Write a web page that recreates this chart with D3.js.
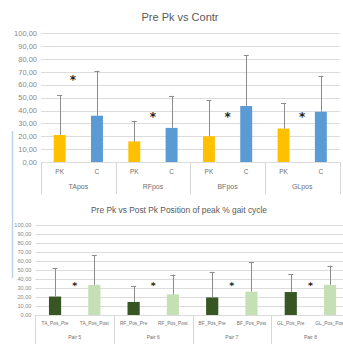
<!DOCTYPE html>
<html>
<head>
<meta charset="utf-8">
<script src="https://cdn.jsdelivr.net/npm/d3@7"></script>
<style>
  body { margin: 0; background: #fff; }
  svg { display: block; font-family: "Liberation Sans", Arial, sans-serif; }
  .grid line { stroke: #dcdcdc; stroke-width: 1; }
  .ytick { fill: #8a8a8a; }
  .cat { fill: #6f6f6f; }
  .title { fill: #595959; }
  .sep { stroke: #d6d6d6; stroke-width: 1; }
  .err { stroke: #8c8c8c; stroke-width: 1; }
</style>
</head>
<body>
<svg id="chart" width="343" height="344"></svg>
<script>
  // ---- data ----
  var yTicks = [0, 10, 20, 30, 40, 50, 60, 70, 80, 90, 100];

  // top chart: Pre Pk vs Contr
  var topGroups = ['TApos', 'RFpos', 'BFpos', 'GLpos'];
  var topSubLabels = ['PK', 'C'];
  var topPK = [21, 16, 20, 26];
  var topPKErr = [31, 16, 28, 20];
  var topC = [36, 26.5, 43.5, 39];
  var topCErr = [35, 25, 39.5, 28];
  var topStars = [65, 36, 36, 36];

  // bottom chart: Pre Pk vs Post Pk
  var botGroups = ['Pair 5', 'Pair 6', 'Pair 7', 'Pair 8'];
  var botPreLabels = ['TA_Pos_Pre', 'RF_Pos_Pre', 'BF_Pos_Pre', 'GL_Pos_Pre'];
  var botPostLabels = ['TA_Pos_Post', 'RF_Pos_Post', 'BF_Pos_Post', 'GL_Pos_Post'];
  var botPre = [20.5, 14.5, 19.5, 25.5];
  var botPreErr = [31.5, 17.5, 28.5, 20];
  var botPost = [33.5, 23, 26, 33.5];
  var botPostErr = [33, 22, 32.5, 21.5];
  var botStars = [34, 34, 34, 34];

  var svg = d3.select('#chart');

  // builds the flat list of bars from two series
  function makeBars(groups, labA, labB, valA, errA, valB, errB) {
    var bars = [];
    groups.forEach(function (g, i) {
      bars.push({group: g, label: labA[i], value: valA[i], err: errA[i], s: 0});
      bars.push({group: g, label: labB[i], value: valB[i], err: errB[i], s: 1});
    });
    return bars;
  }

  function drawChart(cfg) {
    var g = svg.append('g');

    var y = d3.scaleLinear().domain([0, 100]).range([cfg.y0, cfg.y1]);
    var xg = d3.scaleBand().domain(cfg.groups).range([cfg.x0, cfg.x1]);
    var xs = d3.scaleBand().domain([0, 1]).range([0, xg.bandwidth()]);
    var barW = xs.bandwidth() * cfg.barFrac;

    function cx(d) { return xg(d.group) + xs(d.s) + xs.bandwidth() / 2; }

    // title
    g.append('text')
        .attr('class', 'title')
        .attr('x', cfg.titleX)
        .attr('y', cfg.titleY)
        .attr('text-anchor', 'middle')
        .style('font-size', cfg.titleSize + 'px')
        .text(cfg.title);

    // gridlines
    g.append('g')
        .attr('class', 'grid')
        .selectAll('line')
        .data(yTicks)
      .enter().append('line')
        .attr('x1', cfg.x0)
        .attr('x2', cfg.gridEnd)
        .attr('y1', function (d) { return Math.round(y(d)) + 0.5; })
        .attr('y2', function (d) { return Math.round(y(d)) + 0.5; });

    // y tick labels
    g.selectAll('.ytick')
        .data(yTicks)
      .enter().append('text')
        .attr('class', 'ytick')
        .attr('x', cfg.x0 - 4)
        .attr('y', function (d) { return y(d); })
        .attr('dy', '0.35em')
        .attr('text-anchor', 'end')
        .style('font-size', cfg.tickSize + 'px')
        .text(function (d) { return d3.format('.2f')(d).replace('.', ','); });

    // bars
    g.selectAll('.bar')
        .data(cfg.bars)
      .enter().append('rect')
        .attr('class', 'bar')
        .attr('x', function (d) { return cx(d) - barW / 2; })
        .attr('width', barW)
        .attr('y', function (d) { return y(d.value); })
        .attr('height', function (d) { return y(0) - y(d.value); })
        .attr('fill', function (d) { return cfg.colors[d.s]; });

    // error bars (upper only)
    var eb = g.selectAll('.eb')
        .data(cfg.bars)
      .enter().append('g')
        .attr('class', 'eb');
    eb.append('line')
        .attr('class', 'err')
        .attr('x1', function (d) { return Math.round(cx(d)) + 0.5; })
        .attr('x2', function (d) { return Math.round(cx(d)) + 0.5; })
        .attr('y1', function (d) { return y(d.value); })
        .attr('y2', function (d) { return y(d.value + d.err); });
    eb.append('line')
        .attr('class', 'err')
        .attr('x1', function (d) { return cx(d) - 2.5; })
        .attr('x2', function (d) { return cx(d) + 2.5; })
        .attr('y1', function (d) { return Math.round(y(d.value + d.err)) + 0.5; })
        .attr('y2', function (d) { return Math.round(y(d.value + d.err)) + 0.5; });

    // significance stars
    g.selectAll('.star')
        .data(cfg.stars)
      .enter().append('text')
        .attr('class', 'star')
        .attr('x', function (d, i) { return xg(cfg.groups[i]) + xg.bandwidth() / 2 + (cfg.starDx[i] || 0); })
        .attr('y', function (d) { return y(d) + cfg.starSize * 0.45; })
        .attr('text-anchor', 'middle')
        .style('font-size', cfg.starSize + 'px')
        .style('font-weight', 'bold')
        .style('font-family', 'DejaVu Sans, sans-serif')
        .attr('fill', '#222')
        .text('*');

    // multi-level category axis
    g.selectAll('.sub')
        .data(cfg.bars)
      .enter().append('text')
        .attr('class', 'cat')
        .attr('x', cx)
        .attr('y', cfg.subY)
        .attr('text-anchor', 'middle')
        .style('font-size', cfg.subSize + 'px')
        .text(function (d) { return d.label; });

    g.selectAll('.grp')
        .data(cfg.groups)
      .enter().append('text')
        .attr('class', 'cat')
        .attr('x', function (d) { return xg(d) + xg.bandwidth() / 2; })
        .attr('y', cfg.grpY)
        .attr('text-anchor', 'middle')
        .style('font-size', cfg.grpSize + 'px')
        .text(function (d) { return d; });

    var seps = cfg.groups.map(function (d) { return xg(d); }).concat([cfg.x1]);
    g.selectAll('.sep')
        .data(seps)
      .enter().append('line')
        .attr('class', 'sep')
        .attr('x1', function (d) { return Math.round(d) + 0.5; })
        .attr('x2', function (d) { return Math.round(d) + 0.5; })
        .attr('y1', cfg.y0)
        .attr('y2', cfg.sepEnd);
  }

  drawChart({
    title: 'Pre Pk vs Contr', titleX: 180, titleY: 21, titleSize: 11,
    groups: topGroups,
    bars: makeBars(topGroups, topGroups.map(function () { return topSubLabels[0]; }),
        topGroups.map(function () { return topSubLabels[1]; }),
        topPK, topPKErr, topC, topCErr),
    stars: topStars, starDx: [-5.5, 0, 0, 0],
    colors: ['#ffc000', '#5b9bd5'],
    x0: 41, x1: 339.5, gridEnd: 339.5, y0: 162, y1: 33.3,
    barFrac: 0.32, tickSize: 7.5, starSize: 12,
    subY: 174, subSize: 6.5, grpY: 189, grpSize: 7, sepEnd: 194
  });

  drawChart({
    title: 'Pre Pk vs Post Pk Position of peak % gait cycle', titleX: 179, titleY: 213, titleSize: 8.4,
    groups: botGroups,
    bars: makeBars(botGroups, botPreLabels, botPostLabels, botPre, botPreErr, botPost, botPostErr),
    stars: botStars, starDx: [0, 0, 0, 0],
    colors: ['#375623', '#c5e0b4'],
    x0: 35.4, x1: 349.7, gridEnd: 349.7, y0: 315, y1: 225,
    barFrac: 0.31, tickSize: 5.6, starSize: 9.5,
    subY: 325, subSize: 4.8, grpY: 339, grpSize: 5, sepEnd: 346
  });

  // light blue border fragment on the left edge
  svg.append('line')
      .attr('x1', 12.5).attr('x2', 12.5)
      .attr('y1', 131).attr('y2', 278)
      .attr('stroke', '#bcd3ea')
      .attr('stroke-width', 1.5);
</script>
</body>
</html>
